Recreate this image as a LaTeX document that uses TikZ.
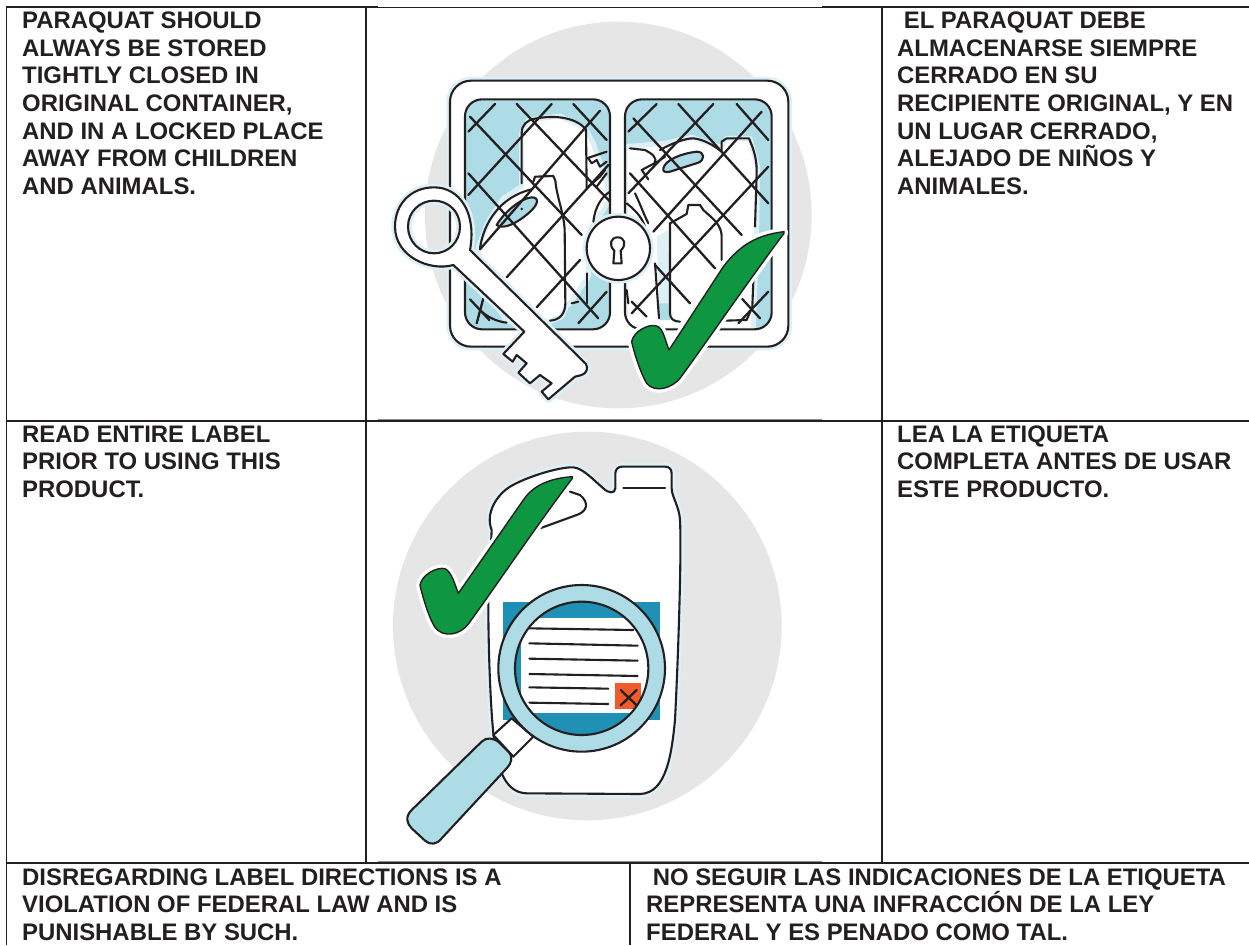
\documentclass[tikz,border=0pt]{standalone}
\usepackage{fontspec}
\setmainfont{Liberation Sans}
\definecolor{disc}{HTML}{E6E6E7}
\definecolor{lblue}{HTML}{ADDCE6}
\definecolor{halo}{HTML}{DDF0F6}
\definecolor{chk}{HTML}{0F9640}
\definecolor{dblue}{HTML}{2090B5}
\definecolor{orng}{HTML}{F15A29}
\definecolor{ink}{HTML}{231F20}
\tikzset{
  rule/.style={draw=ink,line width=1.9pt},
  imgedge/.style={draw=black!45,line width=1.2pt},
  para/.style={anchor=base west,inner sep=0pt,text=ink},
  ol/.style={draw=ink,line width=2.1pt,line join=round,line cap=round},
  mesh/.style={draw=ink,line width=2.3pt,line cap=round},
  haloed/.style={preaction={draw=halo,line width=7.5pt,line join=round}},
  whiteglow/.style={preaction={draw=white,line width=8pt,line join=round}},
  Z1/.style={shift={(370,0)},x=.33333pt,y=-.33333pt},
  ZL/.style={shift={(460,90)},x=.33333pt,y=-.33333pt},
  ZR/.style={shift={(615,90)},x=.33333pt,y=-.33333pt},
  Z2/.style={shift={(370,420)},x=.33333pt,y=-.33333pt},
}
\newcommand{\blocktext}[2]{\parbox[t]{#1pt}{\raggedright\fontsize{23.9}{27.7}\selectfont\bfseries #2}}
\begin{document}
\begin{tikzpicture}[x=1pt,y=-1pt]
\useasboundingbox (0,0) rectangle (1249,945);
\fill[white] (0,0) rectangle (1249,945);

%% ---------- illustration 1
\begin{scope}[Z1]
  \fill[disc] (745,645) circle (580);
  % cabinet
  \path[ol,fill=white,haloed,rounded corners=21pt] (240,242) rectangle (1255,1040);
\end{scope}
% left pane
\begin{scope}[ZL]
  \begin{scope}
    \path[clip,rounded corners=17pt] (15,28) rectangle (450,718);
    \fill[lblue] (0,0) rectangle (480,750);
    \path[fill=white,draw=halo,line width=5pt,line join=round] (205,90) -- (300,78) -- (375,115) -- (400,160) -- (440,280) -- (450,330) -- (390,420) -- (385,560) -- (330,640) -- (318,650) -- (305,680) -- (270,695) -- (140,695) -- (60,560) -- (55,470) -- (85,395) -- (130,325) -- (185,290) -- (185,130) -- cycle;
    % bottles
    \draw[ol] (185,280) -- (185,130) .. controls (185,105) and (200,90) .. (225,86) .. controls (280,75) and (345,80) .. (378,118) -- (380,295);
    \draw[ol] (380,550) -- (380,640);
    \draw[ol] (60,475) .. controls (70,400) and (120,320) .. (215,298);
    \path[ol,fill=lblue] (110,405) .. controls (130,370) and (180,325) .. (215,322) .. controls (240,322) and (235,345) .. (205,370) .. controls (170,400) and (130,420) .. (110,405) -- cycle;
    \fill[ink] (185,357) circle (4);
    \draw[ol] (220,275) -- (225,260) -- (280,258) -- (286,272) .. controls (290,320) and (312,370) .. (314,420) -- (316,640) .. controls (316,670) and (300,690) .. (270,692);
    \draw[ol] (335,640) -- (355,635);
    \draw[ol] (60,660) .. controls (80,680) and (110,695) .. (140,698);
    \draw[ol] (380,205) -- (440,185) (385,205) -- (395,220) -- (410,210) -- (420,230) -- (440,215);
    \draw[ol] (385,290) -- (420,260) -- (435,240) (410,290) -- (440,250);
    \draw[ol] (400,395) .. controls (405,350) and (425,320) .. (450,305);
    % wire mesh
    \draw[mesh] (30,80) -- (365,435) (170,42) -- (450,335) (340,42) -- (440,150) (25,250) -- (415,685) (30,628) -- (88,690);
    \draw[mesh] (105,42) -- (25,125) (275,42) -- (25,315) (420,62) -- (60,478) (445,225) -- (140,562) (360,510) -- (230,652) (440,605) -- (355,700) (70,625) -- (50,700);
  \end{scope}
  \draw[ol,rounded corners=17pt] (15,28) rectangle (450,718);
\end{scope}
% right pane
\begin{scope}[ZR]
  \begin{scope}
    \path[clip,rounded corners=17pt] (30,28) rectangle (470,718);
    \fill[lblue] (0,0) rectangle (480,750);
    \path[fill=white,draw=halo,line width=5pt,line join=round] (30,170) -- (150,160) -- (230,142) -- (318,172) -- (335,145) -- (405,145) -- (428,230) -- (425,420) -- (415,720) -- (30,720) -- cycle;
    \fill[halo] (125,440) -- (160,420) -- (165,690) -- (135,690) -- cycle;
    \fill[lblue] (130,640) -- (160,640) -- (165,690) -- (135,690) -- cycle;
    % bottles
    \draw[ol] (135,180) .. controls (170,160) and (210,145) .. (235,145) .. controls (265,148) and (295,165) .. (320,185);
    \path[ol,fill=lblue] (145,235) .. controls (150,210) and (200,190) .. (245,185) .. controls (270,185) and (270,210) .. (250,218) -- (165,245) .. controls (150,248) and (143,245) .. (145,235) -- cycle;
    \draw[ol] (320,185) -- (320,155) -- (335,145) -- (402,145) -- (410,165) .. controls (420,190) and (426,220) .. (425,250) -- (420,410);
    \draw[ol] (165,400) -- (165,670) .. controls (165,685) and (175,695) .. (195,695);
    \draw[ol] (165,400) -- (215,372) -- (220,345) -- (255,345) -- (265,360) -- (285,378) .. controls (305,395) and (320,415) .. (320,440) -- (320,510);
    \draw[ol] (45,175) -- (90,180) .. controls (110,190) and (130,205) .. (118,220) -- (80,240) -- (100,268) (118,222) -- (150,200);
    \draw[ol] (35,340) .. controls (60,360) and (80,380) .. (90,410) (60,310) .. controls (75,340) and (85,370) .. (100,400);
    \draw[ol] (120,520) -- (132,685);
    \draw[ol] (415,570) -- (412,650) -- (395,690) -- (330,692);
    \draw[ol] (35,600) -- (40,640);
    % wire mesh
    \draw[mesh] (55,85) -- (380,435) (190,42) -- (460,340) (365,42) -- (460,150) (45,250) -- (300,535) (120,525) -- (225,640) (50,635) -- (95,680) (380,625) -- (435,685);
    \draw[mesh] (125,42) -- (40,125) (295,42) -- (40,310) (440,65) -- (115,425) (460,230) -- (50,670) (460,605) -- (370,700);
  \end{scope}
  \draw[ol,rounded corners=17pt] (30,28) rectangle (470,718);
\end{scope}
\begin{scope}[Z1]
  % lock
  \path[ol,fill=white,haloed] (745,745) circle (95);
  \path[ol,fill=white] (730,790) -- (733,752) .. controls (715,735) and (722,712) .. (743,712) .. controls (765,712) and (770,735) .. (752,752) -- (755,790) -- cycle;
  % key
  \path[ol,fill=white,haloed,even odd rule] (300,750) -- (648,1092) .. controls (655,1105) and (650,1120) .. (635,1125) -- (615,1130) -- (535,1198) -- (515,1175) -- (545,1150) -- (510,1125) -- (480,1150) -- (445,1118) -- (470,1090) -- (440,1065) -- (428,1085) -- (400,1062) -- (463,995) -- (250,795) .. controls (180,815) and (75,770) .. (75,680) .. controls (75,610) and (125,562) .. (192,562) .. controls (270,562) and (320,640) .. (300,750) -- cycle (192,602) .. controls (150,602) and (114,635) .. (114,680) .. controls (114,725) and (150,760) .. (192,760) .. controls (235,760) and (270,725) .. (270,680) .. controls (270,635) and (235,602) .. (192,602) -- cycle;
  % tick
  \path[draw=ink,line width=1.4pt,fill=chk,line join=round,whiteglow] (1242,695) .. controls (1160,705) and (1110,735) .. (1060,800) -- (897,1050) .. controls (885,1020) and (880,985) .. (860,978) .. controls (835,970) and (790,995) .. (785,1025) .. controls (795,1070) and (815,1125) .. (830,1150) .. controls (855,1180) and (905,1165) .. (930,1135) .. controls (1000,1040) and (1130,850) .. (1242,700) -- cycle;
\end{scope}

%% ---------- illustration 2
\begin{scope}[Z2]
  \fill[disc] (652,618) circle (583);
  % jug
  \path[ol,fill=white,haloed] (355,550) .. controls (355,700) and (362,860) .. (370,940) .. controls (378,1020) and (395,1118) .. (470,1120) -- (810,1122) .. controls (890,1120) and (905,1000) .. (915,900) .. controls (925,700) and (935,400) .. (930,300) .. controls (928,260) and (905,230) .. (905,205) -- (905,160) .. controls (905,145) and (895,140) .. (885,140) -- (755,140) .. controls (745,140) and (736,148) .. (736,160) -- (736,205) .. controls (735,222) and (715,220) .. (700,205) .. controls (670,180) and (640,145) .. (610,142) .. controls (570,140) and (470,170) .. (420,200) .. controls (380,225) and (345,280) .. (365,330) -- (355,550);
  \draw[ol] (760,203) -- (885,203);
  \draw[ol] (510,325) -- (620,285) .. controls (650,275) and (660,250) .. (630,225) -- (600,215);
  % label
  \fill[dblue] (400,545) rectangle (870,900);
  % magnifier
  \path[ol,fill=white] (425,895) -- (370,945) -- (430,1010) -- (490,950) -- cycle;
  \path[ol,fill=lblue] (335,965) .. controls (350,950) and (370,955) .. (385,965) -- (415,995) .. controls (430,1010) and (425,1030) .. (410,1045) -- (215,1255) .. controls (200,1275) and (180,1275) .. (165,1262) -- (125,1225) .. controls (110,1210) and (105,1190) .. (125,1170) -- cycle;
  \path[ol,fill=lblue] (635,745) circle (250);
  \begin{scope}
    \path[clip] (635,745) circle (200);
    \fill[dblue] (400,500) rectangle (880,1000);
    \fill[white] (452,595) rectangle (850,878);
    \fill[orng] (735,790) rectangle (812,868);
    \draw[mesh] (752,810) -- (800,856) (800,810) -- (752,856);
  \end{scope}
  \draw[ol] (635,745) circle (200);
  \draw[ol] (478,625) -- (790,630) (478,670) -- (803,677) (478,716) -- (803,722) (478,762) -- (803,768) (478,802) -- (715,806) (478,848) -- (715,852);
  % tick
  \path[draw=ink,line width=1.4pt,fill=chk,line join=round,whiteglow] (607,170) .. controls (540,175) and (490,195) .. (460,240) -- (265,520) .. controls (255,495) and (245,455) .. (225,446) .. controls (200,440) and (155,465) .. (150,495) .. controls (160,540) and (180,600) .. (195,622) .. controls (220,655) and (270,645) .. (295,612) .. controls (370,510) and (490,330) .. (607,175) -- cycle;
\end{scope}

%% ---------- table rules
\draw[rule] (6,7) -- (1249,7);
\draw[rule] (6,421) -- (1249,421);
\draw[rule] (6,862.7) -- (1249,862.7);
\draw[rule] (6.5,6) -- (6.5,945);
\draw[rule] (366,7) -- (366,862.7);
\draw[rule] (882,7) -- (882,862.7);
\draw[rule] (630,862.7) -- (630,945);
\fill[white] (378,5.5) rectangle (822,6.6);
\draw[imgedge] (378,419.8) -- (822,419.8);
\draw[imgedge] (378,861.6) -- (822,861.6);

%% ---------- text
\node[para] (t1) at (22,28.3) {\blocktext{340}{PARAQUAT SHOULD\\ALWAYS BE STORED\\TIGHTLY CLOSED IN\\ORIGINAL CONTAINER,\\AND IN A LOCKED PLACE\\AWAY FROM CHILDREN\\AND ANIMALS.}};
\node[para] (t2) at (897,28.3) {\blocktext{350}{\hspace*{6.6pt}EL PARAQUAT DEBE\\ALMACENARSE SIEMPRE\\CERRADO EN SU\\RECIPIENTE ORIGINAL, Y EN\\UN LUGAR CERRADO,\\ALEJADO DE NIÑOS Y\\ANIMALES.}};
\node[para] (t3) at (22,442) {\blocktext{340}{READ ENTIRE LABEL\\PRIOR TO USING THIS\\PRODUCT.}};
\node[para] (t4) at (897,442) {\blocktext{350}{LEA LA ETIQUETA\\COMPLETA ANTES DE USAR\\ESTE PRODUCTO.}};
\node[para] (t5) at (22,885) {\blocktext{600}{DISREGARDING LABEL DIRECTIONS IS A\\VIOLATION OF FEDERAL LAW AND IS\\PUNISHABLE BY SUCH.}};
\node[para] (t6) at (646,885) {\blocktext{600}{\hspace*{6.6pt}NO SEGUIR LAS INDICACIONES DE LA ETIQUETA\\REPRESENTA UNA INFRACCIÓN DE LA LEY\\FEDERAL Y ES PENADO COMO TAL.}};
\end{tikzpicture}
\end{document}
